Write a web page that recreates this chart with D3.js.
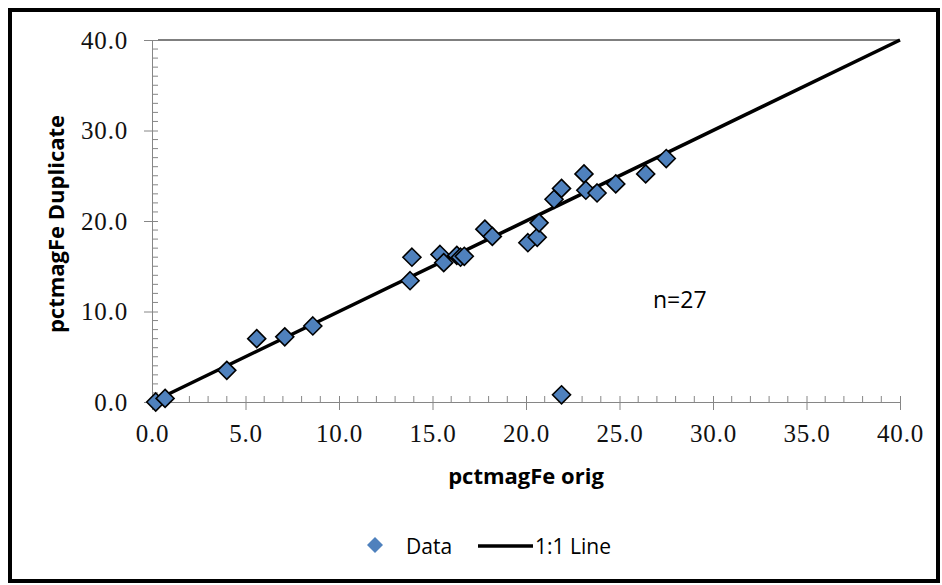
<!DOCTYPE html>
<html>
<head>
<meta charset="utf-8">
<script src="https://cdn.jsdelivr.net/npm/d3@7"></script>
<style>
  body { margin: 0; background: #fff; }
</style>
</head>
<body>
<script>
// data
var origVals = [0.2, 0.7, 4.0, 5.6, 7.1, 8.6, 13.8, 13.9, 15.4, 15.6, 16.3, 16.5, 16.7, 17.8, 18.2,
                20.1, 20.6, 20.7, 21.5, 21.9, 21.9, 23.1, 23.2, 23.8, 24.8, 26.4, 27.5];
var dupVals  = [0.0, 0.4, 3.5, 7.0, 7.2, 8.4, 13.4, 16.0, 16.3, 15.4, 16.2, 16.0, 16.1, 19.1, 18.3,
                17.6, 18.2, 19.8, 22.4, 23.6, 0.8, 25.2, 23.4, 23.1, 24.1, 25.2, 26.9];
var lineVals = [0, 40];
var tickVals = [0, 5, 10, 15, 20, 25, 30, 35, 40];
var yTickVals = [0, 10, 20, 30, 40];

var w = 942, h = 585;
var dataset = origVals.map(function (d, i) { return { x: d, y: dupVals[i] }; });
var sans = "Open Sans, sans-serif";

var svg = d3.select("body").append("svg").attr("width", w).attr("height", h);

// outer frame
svg.append("rect").attr("x", 10).attr("y", 10).attr("width", w - 14).attr("height", h - 14)
    .attr("fill", "#fff").attr("stroke", "#000").attr("stroke-width", 4);

var xScale = d3.scaleLinear().domain([0, 40]).range([152, 900]);
var yScale = d3.scaleLinear().domain([0, 40]).range([402, 40]);

// minor ticks
svg.append("g").selectAll("line").data(d3.range(0, 41).filter(d => d % 5 != 0))
    .enter().append("line")
    .attr("x1", d => xScale(d)).attr("x2", d => xScale(d))
    .attr("y1", 402).attr("y2", 396).attr("stroke", "#868686");
svg.append("g").selectAll("line").data(d3.range(0, 41).filter(d => d % 10 != 0))
    .enter().append("line")
    .attr("y1", d => yScale(d)).attr("y2", d => yScale(d))
    .attr("x1", 152).attr("x2", 158).attr("stroke", "#868686");

// top border of plot
svg.append("line").attr("x1", 158).attr("x2", 900).attr("y1", 40).attr("y2", 40)
    .attr("stroke", "#000").attr("stroke-width", 1.2);

// axes
var xAxis = d3.axisBottom(xScale).tickValues(tickVals).tickFormat(d3.format(".1f")).tickSizeInner(8).tickSizeOuter(0).tickPadding(14);
var yAxis = d3.axisLeft(yScale).tickValues(yTickVals).tickFormat(d3.format(".1f")).tickSizeInner(8).tickSizeOuter(0).tickPadding(16);

var gx = svg.append("g").attr("transform", "translate(0,402)").call(xAxis);
var gy = svg.append("g").attr("transform", "translate(152,0)").call(yAxis);
[gx, gy].forEach(function (g) {
    g.attr("font-family", null).attr("font-size", null);
    g.select(".domain").attr("stroke", "#868686");
    g.selectAll(".tick line").attr("stroke", "#868686");
    g.selectAll(".tick text").attr("fill", "#111")
        .attr("font-family", "Liberation Serif").attr("font-size", 25).attr("letter-spacing", 0.8);
});
gx.selectAll(".tick line").attr("y1", -6);
gy.selectAll(".tick line").attr("x1", 6);

// 1:1 line
svg.append("line")
    .attr("x1", xScale(lineVals[0])).attr("y1", yScale(lineVals[0]))
    .attr("x2", xScale(lineVals[1])).attr("y2", yScale(lineVals[1]))
    .attr("stroke", "#000").attr("stroke-width", 3.5);

// points
var diamond = "M0,-9L9,0L0,9L-9,0Z";
svg.selectAll(".point").data(dataset)
    .enter().append("path").attr("class", "point")
    .attr("d", diamond)
    .attr("fill", "#4F81BD").attr("stroke", "#000").attr("stroke-width", 1.6)
    .attr("transform", d => "translate(" + xScale(d.x) + "," + yScale(d.y) + ")");

// labels
svg.append("text").attr("x", 526).attr("y", 484).attr("text-anchor", "middle")
    .attr("font-family", sans).attr("font-weight", "bold").attr("font-size", 22)
    .text("pctmagFe orig");
svg.append("text").attr("transform", "translate(64,224) rotate(-90)").attr("text-anchor", "middle")
    .attr("font-family", sans).attr("font-weight", "bold").attr("font-size", 22)
    .text("pctmagFe Duplicate");
svg.append("text").attr("x", 653).attr("y", 308)
    .attr("font-family", sans).attr("font-size", 23)
    .text("n=27");

// legend
svg.append("path").attr("d", "M0,-8L8,0L0,8L-8,0Z").attr("fill", "#4F81BD")
    .attr("transform", "translate(375,545)");
svg.append("text").attr("x", 406).attr("y", 554)
    .attr("font-family", sans).attr("font-size", 21).text("Data");
svg.append("line").attr("x1", 478).attr("x2", 533).attr("y1", 546).attr("y2", 546)
    .attr("stroke", "#000").attr("stroke-width", 3.5);
svg.append("text").attr("x", 535).attr("y", 554)
    .attr("font-family", sans).attr("font-size", 21).text("1:1 Line");
</script>
</body>
</html>
